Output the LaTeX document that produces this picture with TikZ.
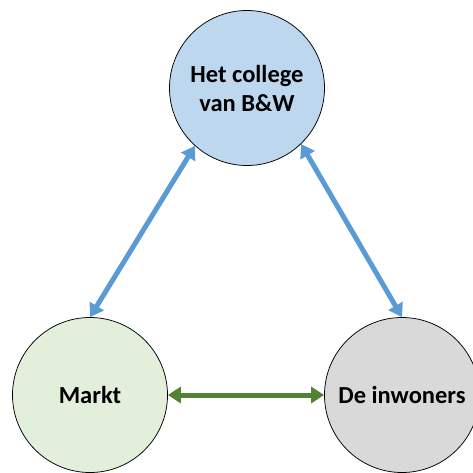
\documentclass[tikz,border=0pt]{standalone}
\usepackage{fontspec}
\setmainfont{Carlito}
\usetikzlibrary{positioning,arrows.meta}
\definecolor{boardblue}{RGB}{189,215,238}
\definecolor{marketgreen}{RGB}{226,239,218}
\definecolor{residentgray}{RGB}{217,217,217}
\definecolor{linkblue}{RGB}{91,155,213}
\definecolor{linkgreen}{RGB}{84,130,53}
\tikzset{%
  party/.style={draw, circle, line width=0.75pt, minimum size=155pt, inner sep=0pt,
    align=center, font=\fontsize{24.5}{29}\selectfont\bfseries},% actor circle
  link/.style={line width=5pt, {Triangle[length=13pt,width=16pt]}-{Triangle[length=13pt,width=16pt]}}% two-way arrow
}

\begin{document}
\begin{tikzpicture}[x=1pt, y=-1pt]
\clip (0,0) rectangle (473,472);

\node[party, fill=boardblue] (board) at (247, 88) {Het college\\van B\&W};
\node[party, fill=marketgreen] (market) at (90, 395) {Markt};
\node[party, fill=residentgray] (residents) at (402, 395) {De inwoners};

\draw[link, linkblue] (board.228) -- (market.north);
\draw[link, linkblue] (board.-46) -- (residents.north);
\draw[link, linkgreen] (market.east) -- (residents.west);

\end{tikzpicture}
\end{document}
